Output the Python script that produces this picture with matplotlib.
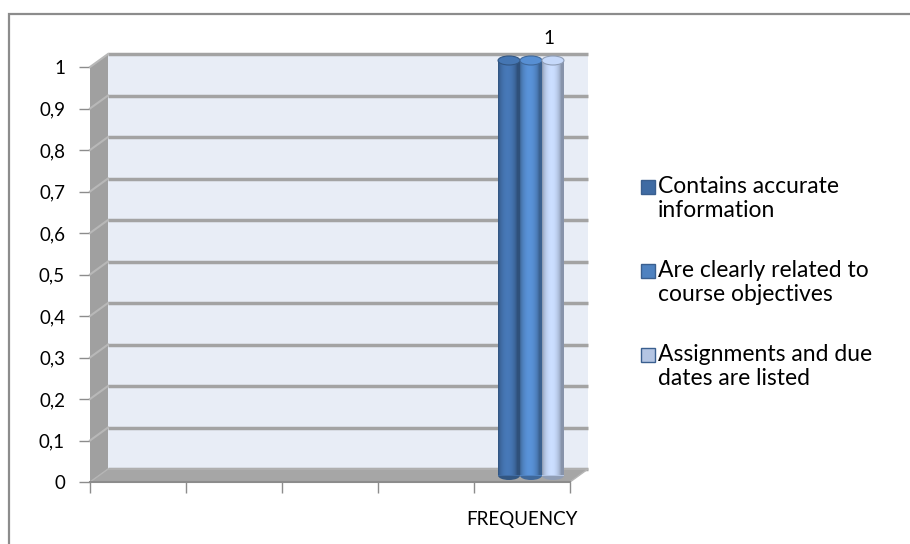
import numpy as np
import matplotlib
matplotlib.use("Agg")
import matplotlib.pyplot as plt
from matplotlib.patches import Rectangle, Polygon, Ellipse
from matplotlib.transforms import offset_copy, IdentityTransform

plt.rcParams['font.family'] = ['Lato', 'DejaVu Sans']

categories = ['', '', '', '', 'FREQUENCY']
series_names = ['Contains accurate\ninformation',
                'Are clearly related to\ncourse objectives',
                'Assignments and due\ndates are listed']
contains_accurate = [0, 0, 0, 0, 1]
clearly_related = [0, 0, 0, 0, 1]
assignments_listed = [0, 0, 0, 0, 1]
series_values = [contains_accurate, clearly_related, assignments_listed]
series_colors = ['#3F6BA3', '#4F82C0', '#B4C5E3']
yticks = np.round(np.arange(0, 1.01, 0.1), 1)

W, H = 910, 544
fig = plt.figure(figsize=(W / 100, H / 100), dpi=100)
fig.patch.set_facecolor('white')

# front plane of the 3-D box, in pixels
left, right, top, bottom = 90, 570, 67, 482
ax = fig.add_axes([left / W, (H - bottom) / H, (right - left) / W, (bottom - top) / H])
ax.set_xlim(0, len(categories))
ax.set_ylim(0, 1)
ax.patch.set_visible(False)
for s in ['top', 'right', 'left']:
    ax.spines[s].set_visible(False)
ax.spines['bottom'].set_color('#8C8C8C')
ax.spines['bottom'].set_linewidth(1.5)
ax.spines['bottom'].set_zorder(6)

DEPTH = (18, 13)  # pixel offset of the back wall


def shifted(frac):
    return offset_copy(ax.transData, fig=fig, x=DEPTH[0] * frac, y=DEPTH[1] * frac, units='dots')


def disp(x, y, frac=0.0):
    p = ax.transData.transform((x, y))
    return (p[0] + DEPTH[0] * frac, p[1] + DEPTH[1] * frac)


n = len(categories)
back = shifted(1.0)

# back wall
ax.add_patch(Rectangle((0, 0), n, 1, transform=back, facecolor='#E8EDF6',
                       edgecolor='none', zorder=0, clip_on=False))
for y in yticks:
    ax.plot([0, n], [y, y], color='#A3A3A3', lw=2.5, transform=back,
            zorder=1, clip_on=False, solid_capstyle='butt')

# side wall
side = Polygon([disp(0, 0), disp(0, 1), disp(0, 1, 1), disp(0, 0, 1)],
               closed=True, facecolor='#A0A0A0', edgecolor='none',
               transform=IdentityTransform(), zorder=2, clip_on=False)
ax.add_patch(side)
for y in yticks[1:]:
    p0, p1 = disp(0, y), disp(0, y, 1)
    ax.plot([p0[0], p1[0]], [p0[1], p1[1]], color='#B8B8B8', lw=1.5,
            transform=IdentityTransform(), zorder=2.5, clip_on=False)

# floor
floor = Polygon([disp(0, 0), disp(n, 0), disp(n, 0, 1), disp(0, 0, 1)],
                closed=True, facecolor='#A6A6A6', edgecolor='#B5B5B5', lw=1,
                transform=IdentityTransform(), zorder=2, clip_on=False)
ax.add_patch(floor)

# cylinders
mid = shifted(0.5)
bar_w = 0.229
ell_h = 9 / (bottom - top)
t = np.linspace(0, 1, 64)
shade = 0.75 + 0.38 * np.sin(np.pi * np.clip(t * 1.15, 0, 1)) ** 0.6
for k, (vals, col) in enumerate(zip(series_values, series_colors)):
    base = np.array(matplotlib.colors.to_rgb(col))
    for i, v in enumerate(vals):
        if not v:
            continue
        x = i + 0.5 + (k - 1) * bar_w
        bars = ax.bar(x, v, bar_w, color=col, edgecolor='none', transform=mid,
                      zorder=4 + k * 0.1, clip_on=False)
        patch = bars[0]
        img = np.clip(base[None, None, :] * shade[None, :, None], 0, 1)
        im = ax.imshow(img, extent=(x - bar_w / 2, x + bar_w / 2, 0, v), aspect='auto',
                       transform=mid, interpolation='bilinear', zorder=4 + k * 0.1,
                       clip_on=False)
        im.set_clip_path(patch)
        ax.add_patch(Ellipse((x, 0), bar_w, ell_h, transform=mid,
                             facecolor=base * 0.8, edgecolor='none',
                             zorder=3.9 + k * 0.1, clip_on=False))
        top_col = np.clip(base * 1.1, 0, 1)
        ax.add_patch(Ellipse((x, v), bar_w, ell_h, transform=mid,
                             facecolor=top_col, edgecolor=base * 0.8, lw=0.8,
                             zorder=4.05 + k * 0.1, clip_on=False))

# data label on the last series
last = series_values[-1]
for i, v in enumerate(last):
    if v:
        x = i + 0.5 + bar_w
        ax.annotate(f'{v:g}', xy=(x, v), xycoords=mid, xytext=(-4, 22),
                    textcoords='offset pixels', ha='center', va='center',
                    fontsize=13.5, color='black')

ax.set_xlim(0, n)
ax.set_ylim(0, 1)

# axes ticks and labels
ax.set_yticks(yticks)
ax.set_yticklabels([f'{y:g}'.replace('.', ',') for y in yticks], fontsize=13.5)
ax.tick_params(axis='y', length=8, width=1, color='#8C8C8C', pad=10)
ax.set_xticks(np.arange(n) + 0.5)
ax.set_xticklabels(categories, fontsize=13.5)
ax.set_xticks(np.arange(n + 1), minor=True)
ax.tick_params(axis='x', which='major', length=0, pad=21)
ax.tick_params(axis='x', which='minor', length=8, width=1, color='#8C8C8C')

# legend
leg_x, leg_text_x = 641, 658
leg_centers = [187, 271, 355]
for name, col, yc in zip(series_names, series_colors, leg_centers):
    sq = Rectangle((leg_x / W, 1 - (yc + 7) / H), 14 / W, 14 / H,
                   transform=fig.transFigure, facecolor=col,
                   edgecolor='#3A5F8F', lw=1)
    fig.patches.append(sq)
    fig.text(leg_text_x / W, 1 - (yc - 11) / H, name, fontsize=16.5,
             va='top', ha='left', linespacing=1.2)

# chart frame
fig.patches.append(Rectangle((9 / W, -0.1), 1.2, (H - 14) / H + 0.1,
                             transform=fig.transFigure, fill=False,
                             edgecolor='#8C8C8C', lw=1.6))

fig.savefig('out.png', dpi=100)
